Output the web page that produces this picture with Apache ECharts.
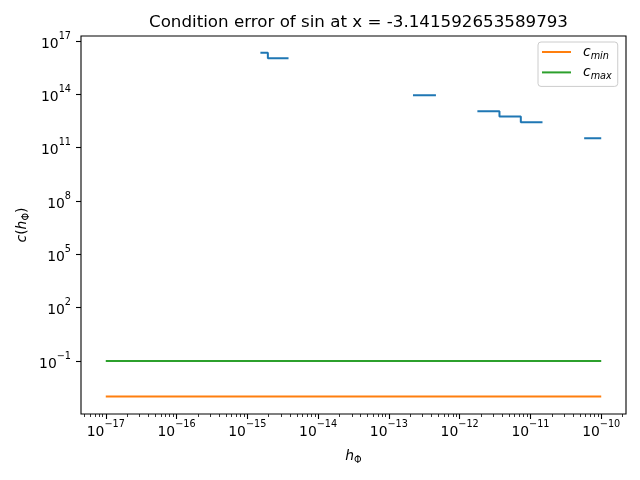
<!DOCTYPE html>
<html>
<head>
<meta charset="utf-8">
<script src="https://cdn.jsdelivr.net/npm/echarts@6/dist/echarts.min.js"></script>
<style>html,body{margin:0;padding:0;background:#fff;}#chart{width:640px;height:480px;}</style>
</head>
<body>
<div id="chart"></div>
<script>
// ---- data ----
const titleText = 'Condition error of sin at x = -3.141592653589793';
// blue curve c(h): null marks a gap
const curveH = [1.53e-15, 1.95e-15, 1.95e-15, 3.82e-15, null,
                2.19e-13, 4.62e-13, null,
                1.78e-12, 3.65e-12, 3.65e-12, 7.31e-12, 7.31e-12, 1.48e-11, null,
                5.74e-11, 1.0e-10];
const curveC = [2.2e16, 2.2e16, 1.07e16, 1.07e16, null,
                8.9e13, 8.9e13, null,
                1.12e13, 1.12e13, 5.6e12, 5.6e12, 2.7e12, 2.7e12, null,
                3.4e11, 3.4e11];
const cMinH = [1e-17, 1e-10];
const cMinV = [1e-3, 1e-3];
const cMaxH = [1e-17, 1e-10];
const cMaxV = [0.1, 0.1];
// tick exponents
const xTickExp = [-17, -16, -15, -14, -13, -12, -11, -10];
const yTickExp = [-1, 2, 5, 8, 11, 14, 17];
const xRangeExp = [-17.35, -9.65];
const yRangeExp = [-3.98, 17.28];

const lg = v => Math.log10(v);
const toPairs = (hs, vs) => hs.map((h, i) => (h === null || vs[i] === null) ? [NaN, NaN] : [lg(h), lg(vs[i])]);

// minor ticks at 2..9 x 10^n
const xMinor = [];
for (let n = -18; n <= -10; n++) for (let k = 2; k <= 9; k++) {
  const e = Math.log10(k) + n;
  if (e > xRangeExp[0] && e < xRangeExp[1]) xMinor.push(e);
}

const FONT = 'DejaVu Sans';
const fmtPow = v => {
  const e = Math.round(v);
  return '{b|10}{e|' + String(e).replace('-', '\u2212') + '}';
};
const powRich = {
  b: {fontFamily: FONT, fontSize: 13.9, color: '#000', lineHeight: 20, verticalAlign: 'bottom'},
  e: {fontFamily: FONT, fontSize: 9.7, color: '#000', lineHeight: 10, verticalAlign: 'top'}
};
const mathRich = {
  i: {fontFamily: FONT, fontStyle: 'italic', fontSize: 13.9, color: '#000', lineHeight: 18},
  n: {fontFamily: FONT, fontSize: 13.9, color: '#000', lineHeight: 18},
  s: {fontFamily: FONT, fontSize: 9.7, color: '#000', lineHeight: 12, verticalAlign: 'bottom'},
  si: {fontFamily: FONT, fontStyle: 'italic', fontSize: 9.7, color: '#000', lineHeight: 12, verticalAlign: 'bottom'},
  p: {fontFamily: FONT, fontStyle: 'italic', fontSize: 13.9, color: '#000', lineHeight: 18, padding: [0, 0, 0, 7]}
};

const chart = echarts.init(document.getElementById('chart'), null, {renderer: 'canvas'});
chart.setOption({
  animation: false,
  backgroundColor: '#fff',
  title: {
    text: titleText,
    left: 353.5, textAlign: 'center', top: 9,
    textStyle: {fontFamily: FONT, fontSize: 16.7, fontWeight: 'normal', color: '#000'}
  },
  grid: {left: 81, right: 14, top: 36, bottom: 66, show: true, borderColor: '#000', borderWidth: 1.1, containLabel: false, outerBoundsMode: 'none'},
  legend: {
    data: ['c_min', 'c_max'],
    orient: 'vertical',
    left: 538, top: 42,
    padding: [3, 6, 5, 4],
    itemGap: 4.4,
    itemWidth: 29, itemHeight: 2,
    icon: 'rect',
    borderColor: '#cccccc', borderWidth: 1, borderRadius: 3,
    backgroundColor: 'rgba(255,255,255,0.8)',
    formatter: name => name === 'c_min' ? '{p|c}{si|min}' : '{p|c}{si|max}',
    textStyle: {rich: mathRich}
  },
  xAxis: [{
    type: 'value', min: xRangeExp[0], max: xRangeExp[1], position: 'bottom',
    name: '{i|h}{s|Φ}', nameLocation: 'middle', nameGap: 33, nameMoveOverlap: false,
    nameTextStyle: {rich: mathRich},
    axisLine: {show: false, onZero: false},
    splitLine: {show: false},
    axisTick: {show: true, length: 5, customValues: xTickExp, lineStyle: {color: '#000', width: 1.1}},
    axisLabel: {show: true, customValues: xTickExp, margin: 5, formatter: fmtPow, rich: powRich}
  }, {
    type: 'value', min: xRangeExp[0], max: xRangeExp[1], position: 'bottom',
    axisLine: {show: false, onZero: false}, splitLine: {show: false},
    axisTick: {show: true, length: 3, customValues: xMinor, lineStyle: {color: '#000', width: 0.8}},
    axisLabel: {show: false}
  }],
  yAxis: {
    type: 'value', min: yRangeExp[0], max: yRangeExp[1], position: 'left',
    name: '{i|c}{n|(}{i|h}{s|Φ}{n|)}', nameLocation: 'middle', nameGap: 50, nameRotate: 90, nameMoveOverlap: false,
    nameTextStyle: {rich: mathRich},
    axisLine: {show: false, onZero: false},
    splitLine: {show: false},
    axisTick: {show: true, length: 5, customValues: yTickExp, lineStyle: {color: '#000', width: 1.1}},
    axisLabel: {show: true, customValues: yTickExp, margin: 10, formatter: fmtPow, rich: powRich}
  },
  series: [{
    name: 'c', type: 'line', showSymbol: false, symbol: 'none', connectNulls: false,
    lineStyle: {color: '#1f77b4', width: 2}, itemStyle: {color: '#1f77b4'},
    data: toPairs(curveH, curveC)
  }, {
    name: 'c_min', type: 'line', showSymbol: false, symbol: 'none',
    lineStyle: {color: '#ff7f0e', width: 2}, itemStyle: {color: '#ff7f0e'},
    data: toPairs(cMinH, cMinV)
  }, {
    name: 'c_max', type: 'line', showSymbol: false, symbol: 'none',
    lineStyle: {color: '#2ca02c', width: 2}, itemStyle: {color: '#2ca02c'},
    data: toPairs(cMaxH, cMaxV)
  }]
});
</script>
</body>
</html>
